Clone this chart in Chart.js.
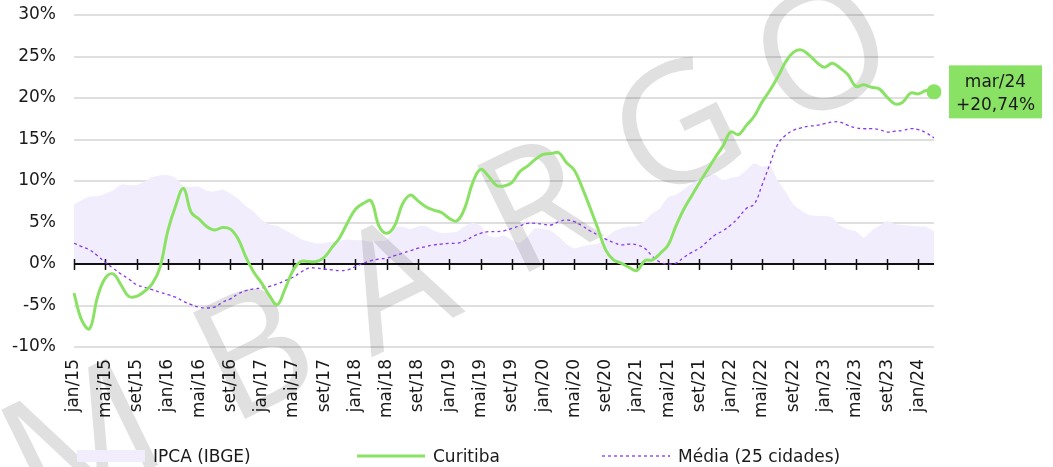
<!DOCTYPE html>
<html>
<head>
<meta charset="utf-8">
<script src="https://cdn.jsdelivr.net/npm/chart.js@4.4.1/dist/chart.umd.min.js"></script>
<style>
  html, body { margin: 0; padding: 0; background: #fff; }
  #wrap { width: 1053px; height: 467px; position: relative; }
</style>
</head>
<body>
<div id="wrap"><canvas id="chart"></canvas></div>
<script>
// Monthly series, jan/15 .. mar/24 (12-month variation, %)
const monthNames = ['jan', 'fev', 'mar', 'abr', 'mai', 'jun', 'jul', 'ago', 'set', 'out', 'nov', 'dez'];
const firstYear = 15;
const monthCount = 111;

const ipca = [
  7.14, 7.70, 8.13, 8.17, 8.47, 8.89, 9.56, 9.53, 9.49, 9.93, 10.48, 10.67,
  10.71, 10.36, 9.39, 9.28, 9.32, 8.84, 8.74, 8.97, 8.48, 7.87, 6.99, 6.29,
  5.35, 4.76, 4.57, 4.08, 3.60, 3.00, 2.71, 2.46, 2.54, 2.70, 2.80, 2.95,
  2.86, 2.84, 2.68, 2.76, 2.86, 4.39, 4.48, 4.19, 4.53, 4.56, 4.05, 3.75,
  3.78, 3.89, 4.58, 4.94, 4.66, 3.37, 3.22, 3.43, 2.89, 2.54, 3.27, 4.31,
  4.19, 4.01, 3.30, 2.40, 1.88, 2.13, 2.31, 2.44, 3.14, 3.92, 4.31, 4.52,
  4.56, 5.20, 6.10, 6.76, 8.06, 8.35, 8.99, 9.68, 10.25, 10.67, 10.74, 10.06,
  10.38, 10.54, 11.30, 12.13, 11.73, 11.89, 10.07, 8.73, 7.17, 6.47, 5.90, 5.79,
  5.77, 5.60, 4.65, 4.18, 3.94, 3.16, 3.99, 4.61, 5.19, 4.82, 4.68, 4.62,
  4.51, 4.50, 3.93
];

const curitiba = [
  -3.5, -6.8, -7.8, -4.0, -1.7, -1.2, -2.5, -3.9, -3.9, -3.3, -2.4, -0.4,
  4.0, 7.0, 9.1, 6.2, 5.4, 4.5, 4.1, 4.4, 4.2, 3.0, 0.8, -1.0,
  -2.3, -3.8, -4.9, -3.0, -0.8, 0.3, 0.3, 0.3, 0.8, 2.0, 3.2, 5.0,
  6.6, 7.3, 7.6, 4.6, 3.7, 4.6, 7.2, 8.3, 7.6, 6.9, 6.5, 6.2,
  5.5, 5.2, 6.8, 9.8, 11.4, 10.6, 9.5, 9.4, 9.8, 11.1, 11.8, 12.6,
  13.2, 13.3, 13.4, 12.2, 11.3, 9.2, 6.8, 4.3, 1.7, 0.5, 0.1, -0.4,
  -0.8, 0.4, 0.5, 1.3, 2.3, 4.6, 6.6, 8.2, 9.8, 11.3, 12.8, 14.2,
  15.9, 15.6, 16.7, 17.8, 19.5, 20.9, 22.5, 24.3, 25.5, 25.8, 25.2, 24.3,
  23.7, 24.2, 23.6, 22.8, 21.4, 21.6, 21.3, 21.1, 20.1, 19.3, 19.5, 20.6,
  20.5, 20.9, 20.74
];

const media = [
  2.5, 2.1, 1.7, 1.0, 0.2, -0.5, -1.2, -1.8, -2.5, -2.8, -3.1, -3.4,
  -3.7, -4.0, -4.5, -4.9, -5.2, -5.3, -5.2, -4.6, -4.2, -3.6, -3.2, -3.0,
  -2.9, -2.7, -2.4, -2.0, -1.6, -1.0, -0.5, -0.5, -0.6, -0.7, -0.8, -0.7,
  -0.3, 0.1, 0.4, 0.6, 0.7, 1.0, 1.3, 1.6, 1.9, 2.1, 2.3, 2.4,
  2.5, 2.5, 2.8, 3.3, 3.7, 3.9, 3.9, 4.0, 4.3, 4.6, 4.9, 4.9,
  4.8, 4.7, 5.1, 5.3, 5.1, 4.6, 4.0, 3.5, 3.0, 2.6, 2.3, 2.4,
  2.3, 1.9, 0.9, 0.2, 0.0, 0.1, 0.8, 1.4, 1.9, 2.7, 3.5, 4.0,
  4.7, 5.6, 6.7, 7.2, 9.5, 12.0, 14.4, 15.5, 16.1, 16.4, 16.6, 16.7,
  16.9, 17.1, 17.1, 16.7, 16.4, 16.3, 16.3, 16.2, 15.9, 16.0, 16.1, 16.3,
  16.2, 15.8, 15.2
];

const seriesNames = ['IPCA (IBGE)', 'Curitiba', 'Média (25 cidades)'];
const endLabel = ['mar/24', '+20,74%'];
const watermark = 'MBARGO';

const labels = [];
for (let i = 0; i < monthCount; i++) {
  labels.push(monthNames[i % 12] + '/' + (firstYear + Math.floor(i / 12)));
}

const FONT = '"DejaVu Sans", sans-serif';
const GREEN = '#8ae264';
const LAVENDER = '#f2edfc';
const PURPLE = '#8a38f0';

// watermark drawn right after the IPCA fill, then the zero axis with ticks
const underlayPlugin = {
  id: 'underlay',
  afterDatasetDraw(chart, args) {
    if (args.index !== 0) return;
    const ctx = chart.ctx;
    // watermark letters
    const spots = [[85, 448], [258, 360], [398, 292], [540, 214], [680, 136], [826, 60]];
    ctx.save();
    ctx.fillStyle = 'rgba(0,0,0,0.12)';
    ctx.font = '400 166px "Open Sans", sans-serif';
    ctx.textAlign = 'center';
    ctx.textBaseline = 'middle';
    for (let k = 0; k < watermark.length; k++) {
      ctx.save();
      ctx.translate(spots[k][0], spots[k][1]);
      ctx.rotate(-26 * Math.PI / 180);
      ctx.fillText(watermark[k], 0, 0);
      ctx.restore();
    }
    ctx.restore();

    // zero line with crossing ticks
    const x = chart.scales.x, y = chart.scales.y;
    const y0 = y.getPixelForValue(0);
    ctx.save();
    ctx.strokeStyle = '#111';
    ctx.lineWidth = 2;
    ctx.beginPath();
    ctx.moveTo(chart.chartArea.left, y0);
    ctx.lineTo(chart.chartArea.right, y0);
    ctx.stroke();
    ctx.lineWidth = 1.5;
    ctx.beginPath();
    for (let i = 0; i < labels.length; i += 4) {
      const px = Math.round(x.getPixelForValue(i)) + 0.5;
      ctx.moveTo(px, y0 - 5);
      ctx.lineTo(px, y0 + 6);
    }
    ctx.stroke();
    ctx.restore();
  }
};

// green callout at the last Curitiba point
const endLabelPlugin = {
  id: 'endLabel',
  afterDatasetsDraw(chart) {
    const meta = chart.getDatasetMeta(1);
    const pt = meta.data[meta.data.length - 1];
    const ctx = chart.ctx;
    const bx = pt.x + 15, bw = 93, bh = 53;
    ctx.save();
    ctx.fillStyle = GREEN;
    ctx.fillRect(bx, pt.y - bh / 2, bw, bh);
    ctx.fillStyle = '#1a1a1a';
    ctx.font = '17px ' + FONT;
    ctx.textAlign = 'center';
    ctx.textBaseline = 'alphabetic';
    ctx.fillText(endLabel[0], bx + bw / 2, pt.y - 5);
    ctx.fillText(endLabel[1], bx + bw / 2, pt.y + 18);
    ctx.restore();
  }
};

// legend row at the bottom
const legendPlugin = {
  id: 'bottomLegend',
  afterDraw(chart) {
    const ctx = chart.ctx;
    const starts = [77, 357, 602];
    const cy = 456;
    ctx.save();
    ctx.font = '17px ' + FONT;
    ctx.textBaseline = 'alphabetic';
    ctx.textAlign = 'left';
    chart.data.datasets.forEach((ds, k) => {
      const sx = starts[k];
      if (ds.fill) {
        ctx.fillStyle = ds.backgroundColor;
        ctx.fillRect(sx, cy - 6, 68, 12);
      } else {
        ctx.strokeStyle = ds.borderColor;
        ctx.lineWidth = ds.borderWidth;
        ctx.setLineDash(ds.borderDash || []);
        ctx.beginPath();
        ctx.moveTo(sx, cy);
        ctx.lineTo(sx + 68, cy);
        ctx.stroke();
        ctx.setLineDash([]);
      }
      ctx.fillStyle = '#1a1a1a';
      ctx.fillText(ds.label, sx + 76, cy + 6);
    });
    ctx.restore();
  }
};

function renderChart() {
  const ctx = document.getElementById('chart').getContext('2d');
  new Chart(ctx, {
    type: 'line',
    data: {
      labels: labels,
      datasets: [{
        label: seriesNames[0],
        data: ipca,
        fill: 'origin',
        backgroundColor: LAVENDER,
        borderColor: LAVENDER,
        borderWidth: 0,
        pointRadius: 0,
        tension: 0.15,
        order: 3
      }, {
        label: seriesNames[1],
        data: curitiba,
        fill: false,
        borderColor: GREEN,
        backgroundColor: GREEN,
        borderWidth: 3,
        tension: 0.4,
        pointRadius: (c) => c.dataIndex === curitiba.length - 1 ? 7.5 : 0,
        pointBackgroundColor: GREEN,
        pointBorderWidth: 0,
        order: 1
      }, {
        label: seriesNames[2],
        data: media,
        fill: false,
        borderColor: PURPLE,
        backgroundColor: PURPLE,
        borderWidth: 1.3,
        borderDash: [3, 3],
        tension: 0.4,
        pointRadius: 0,
        order: 2
      }]
    },
    options: {
      responsive: true,
      maintainAspectRatio: false,
      animation: false,
      layout: { padding: { top: 15, right: 119, left: 0, bottom: 0 } },
      plugins: {
        legend: { display: false },
        tooltip: { enabled: false }
      },
      scales: {
        x: {
          grid: { display: false },
          border: { display: false },
          ticks: {
            autoSkip: false,
            minRotation: 90,
            maxRotation: 90,
            padding: 4,
            color: '#1a1a1a',
            font: { family: FONT, size: 17 },
            callback: function (value, index) {
              return index % 4 === 0 ? this.getLabelForValue(value) : null;
            }
          },
          afterFit: (s) => { s.height = 120; }
        },
        y: {
          min: -10,
          max: 30,
          grid: {
            drawTicks: false,
            lineWidth: 2,
            color: (c) => c.tick && c.tick.value === 0 ? 'rgba(0,0,0,0)' : '#dfdfdf'
          },
          border: { display: false },
          ticks: {
            stepSize: 5,
            padding: 18,
            color: '#1a1a1a',
            font: { family: FONT, size: 17 },
            callback: (v) => v + '%'
          },
          afterFit: (s) => {
            s.width = 74;
            s.paddingTop = 0;
            s.paddingBottom = 0;
          }
        }
      }
    },
    plugins: [underlayPlugin, endLabelPlugin, legendPlugin]
  });
}

document.addEventListener('DOMContentLoaded', renderChart);
</script>
</body>
</html>
